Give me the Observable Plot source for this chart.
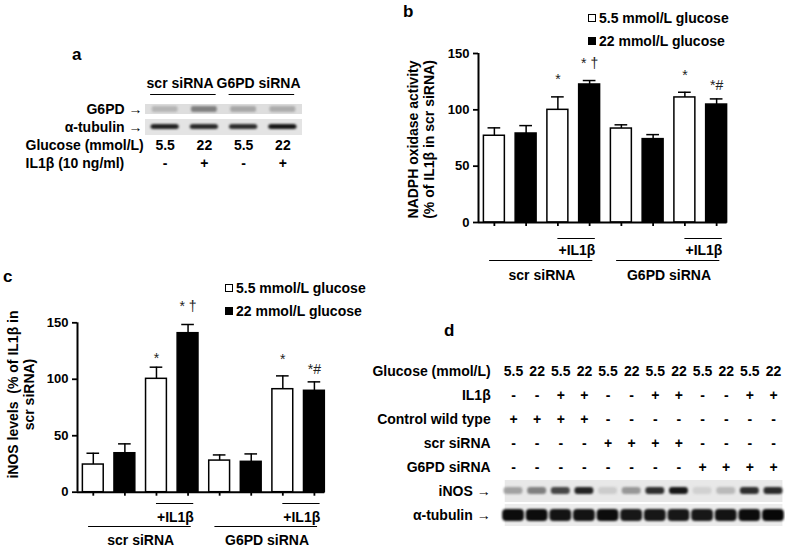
<!DOCTYPE html>
<html><head><meta charset="utf-8">
<script src="https://cdn.jsdelivr.net/npm/d3@7"></script>
<script src="https://cdn.jsdelivr.net/npm/@observablehq/plot@0.6"></script>
<style>
body{margin:0;background:#fff;}
#fig{position:relative;width:785px;height:550px;overflow:hidden;font-family:"Liberation Sans",Arial,sans-serif;color:#000}
.letter{position:absolute;font-weight:bold;font-size:17px;line-height:17px}
.legend{position:absolute;font-weight:bold;font-size:14px;line-height:23px}
.legend .row{display:flex;align-items:center;white-space:nowrap}
.legend .sq{width:6px;height:6px;border:1px solid #000;margin-right:3px}
svg [aria-description="band"]{filter:blur(1.1px)}
svg [aria-label$="axis tick"]{stroke-width:1.8px}
</style></head>
<body><div id="fig"></div>
<script>
// ---------- data ----------
// panel a (western blot)
const lanesA = [0, 1, 2, 3];
const glucoseA = ["5.5", "22", "5.5", "22"];
const il1bA = ["-", "+", "-", "+"];
const g6pdBandA = [0.22, 0.45, 0.28, 0.26];
const tubulinBandA = [0.85, 0.82, 0.8, 0.9];
const siRNAA = ["scr siRNA", "G6PD siRNA"];
const siRNAFirstA = [0, 2];
const siRNALastA = [1, 3];
const rowsA = ["G6PD", "α-tubulin", "Glucose (mmol/L)", "IL1β (10 ng/ml)"];

// panels b and c (bar charts)
const barIdx = [0, 1, 2, 3, 4, 5, 6, 7];
const glucoseBars = ["5.5", "22", "5.5", "22", "5.5", "22", "5.5", "22"];
const nadphMean = [77, 79, 100, 122.5, 83.4, 74, 111, 104.7];
const nadphSEM = [7, 7, 11.5, 3.5, 3.3, 4, 4.6, 5];
const nadphMarks = ["", "", "*", "* †", "", "", "*", "*#"];
const nadphMarkY = [null, null, 129.6, 143.8, null, null, 133, 124];
const inosMean = [24.5, 34.5, 100.4, 140.8, 28, 26.9, 91.2, 89.8];
const inosSEM = [10, 8.3, 10.3, 7.7, 5, 7, 11.8, 7.9];
const inosMarks = ["", "", "*", "* †", "", "", "*", "*#"];
const inosMarkY = [null, null, 121, 166.8, null, null, 120, 111.3];
const yTicks = [0, 50, 100, 150];
const groupLabels = ["scr siRNA", "G6PD siRNA"];
const groupFirst = [0, 4];
const groupLast = [3, 7];
const il1bFirst = [2, 6];
const il1bLast = [3, 7];
const legendLabels = ["5.5 mmol/L glucose", "22 mmol/L glucose"];

// panel d (western blot)
const lanesD = [0, 1, 2, 3, 4, 5, 6, 7, 8, 9, 10, 11];
const glucoseD = ["5.5", "22", "5.5", "22", "5.5", "22", "5.5", "22", "5.5", "22", "5.5", "22"];
const il1bD = ["-", "-", "+", "+", "-", "-", "+", "+", "-", "-", "+", "+"];
const wildD = ["+", "+", "+", "+", "-", "-", "-", "-", "-", "-", "-", "-"];
const scrD = ["-", "-", "-", "-", "+", "+", "+", "+", "-", "-", "-", "-"];
const g6pdD = ["-", "-", "-", "-", "-", "-", "-", "-", "+", "+", "+", "+"];
const inosBandD = [0.3, 0.45, 0.7, 0.85, 0.12, 0.35, 0.8, 0.9, 0.1, 0.2, 0.8, 0.82];
const tubulinBandD = [0.95, 0.95, 0.92, 0.92, 0.95, 0.9, 0.9, 0.9, 0.9, 0.92, 0.95, 0.97];
const rowsD = ["Glucose (mmol/L)", "IL1β", "Control wild type", "scr siRNA", "G6PD siRNA", "iNOS", "α-tubulin"];

// ---------- helpers ----------
const fig = document.getElementById("fig");
const FONT = '"Liberation Sans", Arial, sans-serif';
function place(el, left, top) {
  el.style.position = "absolute";
  el.style.left = left + "px";
  el.style.top = top + "px";
  fig.appendChild(el);
  return el;
}
function gray(t) { const g = Math.round(232 * (1 - t)); return `rgb(${g},${g},${g})`; }
function letter(txt, left, top) {
  const d = document.createElement("div");
  d.className = "letter"; d.textContent = txt;
  place(d, left, top);
}
function legend(left, top) {
  const d = document.createElement("div");
  d.className = "legend";
  legendLabels.forEach((lab, k) => {
    const r = document.createElement("div"); r.className = "row";
    const s = document.createElement("div"); s.className = "sq";
    s.style.background = glucoseBars[k] === "22" ? "#000" : "#fff";
    const t = document.createElement("span"); t.textContent = lab;
    r.appendChild(s); r.appendChild(t); d.appendChild(r);
  });
  place(d, left, top);
}
const baseStyle = {background: "none", fontFamily: FONT, fontWeight: "bold", color: "#000", overflow: "visible"};

// ---------- panel a ----------
const laneDataA = lanesA.map(i => ({i, glucose: glucoseA[i], il1b: il1bA[i], g6pd: g6pdBandA[i], tub: tubulinBandA[i]}));
const headsA = siRNAA.map((label, k) => ({label, first: siRNAFirstA[k], last: siRNALastA[k]}));
const plotA = Plot.plot({
  width: 320, height: 120,
  marginLeft: 145, marginRight: 18, marginTop: 38.7, marginBottom: 6.7,
  style: {...baseStyle, fontSize: "14px"},
  x: {domain: [-0.5, 3.5], axis: null},
  y: {domain: rowsA, axis: null, padding: 0},
  color: {type: "identity"},
  marks: [
    Plot.barX(["G6PD"], {y: d => d, x1: -0.5, x2: 3.5, fill: "#dedede", insetTop: 4, insetBottom: 4}),
    Plot.barX(["α-tubulin"], {y: d => d, x1: -0.5, x2: 3.5, fill: "#e4e4e4", insetTop: 1, insetBottom: 1}),
    Plot.barX(laneDataA, {y: () => "G6PD", x1: d => d.i - 0.33, x2: d => d.i + 0.33, fill: d => gray(d.g6pd), insetTop: 6, insetBottom: 6, rx: 2, ariaDescription: "band"}),
    Plot.barX(laneDataA, {y: () => "α-tubulin", x1: d => d.i - 0.36, x2: d => d.i + 0.36, fill: d => gray(d.tub), insetTop: 6, insetBottom: 7, rx: 3, ariaDescription: "band"}),
    Plot.text(["G6PD", "α-tubulin"], {x: -0.5, y: d => d, text: d => d + " →", textAnchor: "end", dx: -3}),
    Plot.text(["Glucose (mmol/L)", "IL1β (10 ng/ml)"], {x: -0.5, y: d => d, text: d => d, textAnchor: "start", dx: -120}),
    Plot.text(laneDataA, {x: "i", y: () => "Glucose (mmol/L)", text: "glucose"}),
    Plot.text(laneDataA, {x: "i", y: () => "IL1β (10 ng/ml)", text: "il1b"}),
    Plot.text(headsA, {x: d => (d.first + d.last) / 2 - 0.12, y: () => "G6PD", dy: -26, text: "label"}),
    Plot.ruleY(headsA, {y: () => "G6PD", x1: d => d.first - 0.37, x2: d => d.last + 0.3, dy: -15, strokeWidth: 1.2})
  ]
});
place(plotA, 0, 60);

// ---------- bar chart panels ----------
function barChart(cfg) {
  const data = barIdx.map(i => ({i, v: cfg.mean[i], hi: cfg.mean[i] + cfg.sem[i], glucose: glucoseBars[i]}));
  const ann = barIdx.map(i => ({i, t: cfg.marks[i], y: cfg.markY[i]})).filter(d => d.t);
  const groups = groupLabels.map((label, k) => ({label, first: groupFirst[k], last: groupLast[k]}));
  const ils = il1bFirst.map((f, k) => ({first: f, last: il1bLast[k]}));
  const H = 290;
  return Plot.plot({
    width: 385, height: H,
    marginLeft: cfg.ml, marginRight: 385 - cfg.xr, marginTop: cfg.mt, marginBottom: H - cfg.y0,
    style: {...baseStyle, fontSize: "13px"},
    x: {domain: [-0.5, 7.5], ticks: barIdx, tickFormat: () => "", tickSize: 4, label: null},
    y: {domain: [0, 150], ticks: yTicks, tickSize: 5, tickPadding: 4, label: null},
    marks: [
      Plot.ruleX(data, {x: "i", y1: "v", y2: "hi", strokeWidth: 1.5}),
      Plot.ruleY(data, {y: "hi", x1: d => d.i - 0.2, x2: d => d.i + 0.2, strokeWidth: 1.5}),
      Plot.rect(data.filter(d => d.glucose === "5.5"), {x1: d => d.i - 0.33, x2: d => d.i + 0.33, y1: 0, y2: "v", fill: "white", stroke: "black", strokeWidth: 1.5}),
      Plot.rect(data.filter(d => d.glucose === "22"), {x1: d => d.i - 0.33, x2: d => d.i + 0.33, y1: 0, y2: "v", fill: "black", stroke: "black", strokeWidth: 1.5}),
      Plot.ruleX([-0.5], {y1: 0, y2: 150, strokeWidth: 2}),
      Plot.ruleY([0], {x1: -0.5, x2: 7.33, strokeWidth: 2}),
      Plot.text(ann, {x: "i", y: "y", text: "t", dy: 3, fontSize: 14, fontWeight: "normal", fill: "#222"}),
      Plot.ruleY(ils, {y: 0, x1: d => d.first, x2: d => d.last + 0.18, dy: cfg.iLine, strokeWidth: 1.2}),
      Plot.text(ils, {x: d => (d.first + d.last) / 2 + 0.1, y: 0, dy: cfg.iText, text: () => "+IL1β", fontSize: 14}),
      Plot.ruleY(groups, {y: 0, x1: d => d.first - 0.15, x2: d => d.last + 0.1, dy: cfg.gLine, strokeWidth: 1.2}),
      Plot.text(groups, {x: d => (d.first + d.last) / 2, y: 0, dy: cfg.gText, text: "label", fontSize: 14}),
      Plot.text([cfg.ylabel], {frameAnchor: "left", text: d => d, rotate: -90, textAnchor: "middle", lineAnchor: "middle", dx: cfg.ldx, dy: cfg.ldy, fontSize: 14, lineHeight: 1.15})
    ]
  });
}

const plotB = barChart({
  mean: nadphMean, sem: nadphSEM, marks: nadphMarks, markY: nadphMarkY,
  ml: 78, xr: 332, mt: 53, y0: 222,
  iLine: 16, iText: 28, gLine: 38, gText: 53,
  ylabel: "NADPH oxidase activity\n(% of IL1β in scr siRNA)", ldx: -58, ldy: 1.5
});
place(plotB, 400, 0);

const plotC = barChart({
  mean: inosMean, sem: inosSEM, marks: inosMarks, markY: inosMarkY,
  ml: 77, xr: 329.7, mt: 52.3, y0: 221.7,
  iLine: 11.3, iText: 25.3, gLine: 34.3, gText: 48.3,
  ylabel: "iNOS levels  (% of IL1β in\nscr siRNA)", ldx: -56.5, ldy: -13
});
place(plotC, 0, 270);

// ---------- panel d ----------
const laneDataD = lanesD.map(i => ({i, inos: inosBandD[i], tub: tubulinBandD[i]}));
const condRows = [
  ["Glucose (mmol/L)", glucoseD], ["IL1β", il1bD], ["Control wild type", wildD],
  ["scr siRNA", scrD], ["G6PD siRNA", g6pdD]
];
const plotD = Plot.plot({
  width: 425, height: 195,
  marginLeft: 141.2, marginRight: 0.2, marginTop: 12.8, marginBottom: 11.1,
  style: {...baseStyle, fontSize: "14px"},
  x: {domain: [-0.5, 11.5], axis: null},
  y: {domain: rowsD, padding: 0, tickSize: 0, tickPadding: 11, label: null,
      tickFormat: d => (d === "iNOS" || d === "α-tubulin") ? d + " →" : d},
  color: {type: "identity"},
  marks: [
    Plot.barX(["iNOS"], {y: d => d, x1: -0.35, x2: 11.4, fill: "#e8e8e8", insetTop: 1, insetBottom: 1}),
    Plot.barX(["α-tubulin"], {y: d => d, x1: -0.35, x2: 11.4, fill: "#ececec", insetTop: 1, insetBottom: 1}),
    Plot.barX(laneDataD, {y: () => "iNOS", x1: d => d.i - 0.4, x2: d => d.i + 0.4, fill: d => gray(d.inos), insetTop: 8, insetBottom: 9, rx: 3, ariaDescription: "band"}),
    Plot.barX(laneDataD, {y: () => "α-tubulin", x1: d => d.i - 0.46, x2: d => d.i + 0.46, fill: d => gray(d.tub), insetTop: 6, insetBottom: 6, rx: 4, ariaDescription: "band"}),
    ...condRows.map(([row, vals]) => Plot.text(laneDataD, {x: "i", y: () => row, text: d => vals[d.i]}))
  ]
});
place(plotD, 360, 345);

// ---------- letters & legends ----------
letter("a", 72, 46);
letter("b", 403, 3);
letter("c", 3, 268);
letter("d", 444, 322);
legend(588, 6.5);
legend(225, 276.5);
</script></body></html>
